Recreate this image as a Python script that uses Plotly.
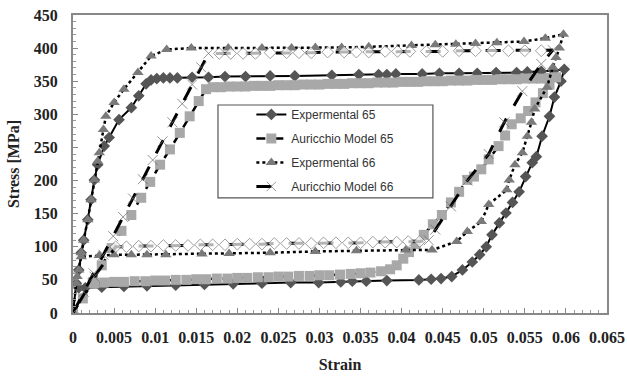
import plotly.graph_objects as go

# ---------------- data ----------------
exp65_strain = [0, 0.0004, 0.0007, 0.001, 0.0013, 0.0018, 0.0022, 0.0026, 0.003, 0.0038, 0.0044, 0.0056,
                0.0071, 0.008, 0.0089, 0.0095, 0.0102, 0.011, 0.0118, 0.0127, 0.0145, 0.0165, 0.0185, 0.021,
                0.024, 0.027, 0.0315, 0.0348, 0.0372, 0.0382, 0.0393, 0.0425, 0.0446, 0.047, 0.0492, 0.0515,
                0.054, 0.0553, 0.057, 0.0585, 0.0598,
                0.0594, 0.0586, 0.058, 0.0571, 0.0564, 0.0559, 0.0551, 0.0543, 0.0535, 0.0527, 0.0519, 0.051,
                0.0503, 0.0495, 0.0486, 0.0474, 0.0461, 0.0448, 0.0436, 0.0421, 0.0382, 0.0357, 0.034, 0.0326,
                0.0299, 0.0265, 0.023, 0.0195, 0.016, 0.0125, 0.009, 0.0062, 0.0035, 0.0015, 0.0007]
exp65_stress = [0, 45, 65, 91, 110, 141, 171, 201, 224, 252, 265, 292,
                310, 328, 346, 352, 354, 355, 355, 355, 356, 356, 357, 357,
                358, 358, 359, 360, 360, 360, 361, 361, 362, 362, 362, 363,
                363, 364, 365, 366, 368,
                350, 326, 297, 267, 236, 227, 206, 183, 167, 151, 136, 118,
                100, 88, 77, 65, 55, 52, 51, 50, 49, 48, 48, 47,
                46, 46, 45, 44, 43, 42, 41, 40, 39, 38, 38]

aur65_strain = [0, 0.0012, 0.0024, 0.0035, 0.0047, 0.0059, 0.0071, 0.0083, 0.0094, 0.0106, 0.0118, 0.013,
                0.0142, 0.0153, 0.0162,
                0.017, 0.018, 0.019, 0.020, 0.021, 0.022, 0.023, 0.024, 0.025, 0.026, 0.027, 0.028, 0.029,
                0.030, 0.031, 0.032, 0.033, 0.034, 0.035, 0.036, 0.037, 0.038, 0.039, 0.040, 0.041, 0.042,
                0.043, 0.044, 0.045, 0.046, 0.047, 0.048, 0.049, 0.050, 0.051, 0.052, 0.053, 0.054, 0.055,
                0.056, 0.057, 0.058, 0.0588,
                0.058, 0.0572, 0.0563, 0.0554, 0.0545, 0.0534, 0.0526, 0.0518, 0.0506, 0.0497, 0.0488, 0.048,
                0.047, 0.046, 0.0449, 0.0438, 0.0427, 0.0417, 0.0409, 0.0402, 0.0394, 0.0386,
                0.0375, 0.0362, 0.035, 0.0338, 0.0325, 0.0312, 0.03, 0.0288, 0.0275, 0.0262, 0.025, 0.0238,
                0.0225, 0.0212, 0.02, 0.0188, 0.0175, 0.0162, 0.015, 0.0138, 0.0125, 0.0112, 0.01, 0.0088,
                0.0075, 0.0062, 0.005, 0.0038, 0.0026]
aur65_stress = [0, 22, 46, 72, 98, 124, 148, 174, 198, 224, 247, 272,
                297, 320, 338,
                341, 341, 342, 342, 342, 343, 343, 343, 344, 344, 344, 345, 345,
                345, 346, 346, 346, 347, 347, 347, 348, 348, 348, 349, 349, 349,
                350, 350, 350, 351, 351, 351, 352, 352, 352, 353, 353, 353, 354,
                354, 354, 355, 356,
                345, 332, 318, 305, 294, 285, 268, 252, 232, 217, 206, 201,
                183, 167, 148, 134, 118, 104, 92, 82, 72, 66,
                63, 61, 60, 59, 58, 57, 57, 56, 56, 55, 55, 54,
                54, 53, 53, 52, 52, 51, 51, 50, 50, 49, 49, 48,
                48, 47, 47, 46, 45]

exp66_strain = [0, 0.0004, 0.0007, 0.001, 0.0013, 0.0018, 0.0022, 0.0026, 0.003, 0.0032, 0.0037, 0.004,
                0.005, 0.0062, 0.0079, 0.0095, 0.0114, 0.0144, 0.0189, 0.023, 0.0266, 0.0295, 0.0327, 0.036,
                0.0412, 0.0441, 0.0466, 0.049, 0.0516, 0.0549, 0.0575, 0.0597,
                0.0592, 0.0588, 0.0584, 0.0577, 0.0562, 0.0558, 0.0553, 0.0547, 0.0538, 0.0531, 0.0528,
                0.0506, 0.0497, 0.048, 0.0467, 0.0437, 0.0405, 0.0345, 0.0295, 0.024, 0.019, 0.0157,
                0.0113, 0.009, 0.0071, 0.005, 0.0032, 0.001, 0.0005]
exp66_stress = [0, 45, 65, 91, 110, 141, 171, 201, 229, 242, 277, 297,
                318, 338, 363, 388, 398, 400, 400, 400, 400, 401, 401, 402,
                404, 405, 406, 407, 408, 410, 415, 421,
                400, 386, 371, 341, 308, 288, 267, 242, 224, 201, 186,
                164, 138, 123, 108, 95, 95, 94, 93, 91, 90, 89,
                88, 88, 88, 88, 87, 85, 55]

# Auricchio model 66: elastic branches (x markers) and plateaus (open diamonds)
aur66_load_strain = [0, 0.0013, 0.0025, 0.0037, 0.0049, 0.0061, 0.0073, 0.0085, 0.0097, 0.0109, 0.0121,
                     0.0133, 0.0145, 0.0156, 0.0165]
aur66_load_stress = [0, 32, 60, 88, 116, 145, 173, 202, 231, 259, 288, 316, 345, 371, 392]
aur66_upper_strain = [0.0178, 0.0192, 0.0207, 0.0222, 0.024, 0.026, 0.0275, 0.029, 0.031, 0.033, 0.0345,
                      0.036, 0.038, 0.0395, 0.041, 0.043, 0.045, 0.047, 0.049, 0.051, 0.053, 0.055, 0.057]
aur66_upper_stress = [392, 392, 392, 392, 393, 393, 393, 393, 394, 394, 394,
                      394, 395, 395, 395, 395, 395, 396, 396, 396, 396, 396, 396]
aur66_unload_strain = [0.0584, 0.057, 0.0547, 0.0525, 0.0506, 0.048, 0.046, 0.0441, 0.0433]
aur66_unload_stress = [397, 376, 335, 288, 240, 200, 161, 126, 110]
aur66_lower_strain = [0.0422, 0.0408, 0.0394, 0.038, 0.0365, 0.035, 0.0335, 0.032, 0.0305, 0.029, 0.0275,
                      0.026, 0.0245, 0.023, 0.0215, 0.02, 0.0185, 0.017, 0.0155, 0.014, 0.0125, 0.011,
                      0.0095, 0.008, 0.0065, 0.0052]
aur66_lower_stress = [108, 108, 107, 107, 107, 106, 106, 106, 106, 105, 105,
                      105, 105, 104, 104, 104, 103, 103, 103, 102, 102, 102,
                      101, 101, 100, 100]
aur66_return_strain = [0.0026, 0]
aur66_return_stress = [55, 0]

x_tick_vals = [0, 0.005, 0.01, 0.015, 0.02, 0.025, 0.03, 0.035, 0.04, 0.045, 0.05, 0.055, 0.06, 0.065]
x_tick_text = ["0", "0.005", "0.01", "0.015", "0.02", "0.025", "0.03", "0.035", "0.04", "0.045",
               "0.05", "0.055", "0.06", "0.065"]
y_tick_vals = [0, 50, 100, 150, 200, 250, 300, 350, 400, 450]

series_names = ["Expermental 65", "Auricchio Model 65", "Expermental 66", "Auricchio Model 66"]

# ---------------- figure ----------------
fig = go.Figure()

fig.add_trace(go.Scatter(
    x=exp65_strain, y=exp65_stress, name=series_names[0], mode="lines+markers",
    line=dict(color="black", width=2),
    marker=dict(symbol="diamond", size=9, color="#555555", line=dict(width=0)),
    legendgroup="a"))

fig.add_trace(go.Scatter(
    x=aur65_strain, y=aur65_stress, name=series_names[1], mode="lines+markers",
    line=dict(color="black", width=2.5, dash="dash"),
    marker=dict(symbol="square", size=10, color="#a8a8a8", line=dict(width=0)),
    legendgroup="b"))

fig.add_trace(go.Scatter(
    x=exp66_strain, y=exp66_stress, name=series_names[2], mode="lines+markers",
    line=dict(color="black", width=2.5, dash="dot"),
    marker=dict(symbol="triangle-up", size=10, color="#7a7a7a", line=dict(width=0)),
    legendgroup="c"))

segments = [(aur66_load_strain, aur66_load_stress, "x"),
            (aur66_upper_strain, aur66_upper_stress, "d"),
            (aur66_unload_strain, aur66_unload_stress, "x"),
            (aur66_lower_strain, aur66_lower_stress, "d"),
            (aur66_return_strain, aur66_return_stress, "x")]
ax, ay, syms, fills, sizes = [], [], [], [], []
for sx, sy, kind in segments:
    ax += sx
    ay += sy
    syms += ["x-thin-open" if kind == "x" else "diamond"] * len(sx)
    fills += ["#666666" if kind == "x" else "white"] * len(sx)
    sizes += [10 if kind == "x" else 9] * len(sx)

fig.add_trace(go.Scatter(
    x=ax, y=ay, name=series_names[3], mode="lines+markers",
    line=dict(color="black", width=3, dash="longdash"),
    marker=dict(symbol=syms, size=sizes, color=fills, line=dict(color="#777777", width=1)),
    legendgroup="d"))

axis_font = dict(family="Liberation Serif", size=16, color="#222222", weight="bold")

fig.update_layout(
    width=627, height=376,
    margin=dict(l=73, r=20, t=15, b=63),
    paper_bgcolor="white", plot_bgcolor="white",
    showlegend=True,
    legend=dict(
        x=0.334, y=0.715, xanchor="left", yanchor="top",
        bgcolor="rgba(0,0,0,0)", borderwidth=0,
        font=dict(family="Liberation Sans", size=12, color="#333333"),
        tracegroupgap=5, traceorder="grouped", itemwidth=30),
    shapes=[dict(type="rect", xref="paper", yref="paper",
                 x0=0.2715, x1=0.674, y0=0.386, y1=0.698,
                 line=dict(color="#555555", width=1.2), fillcolor="rgba(0,0,0,0)", layer="below")],
)

fig.update_xaxes(
    range=[0, 0.065], tickvals=x_tick_vals, ticktext=x_tick_text, automargin=False,
    showgrid=False, zeroline=False, showline=True, linecolor="#888888", linewidth=2, mirror=True,
    ticks="inside", ticklen=5, tickcolor="#888888",
    minor=dict(dtick=0.001, ticks="inside", ticklen=3, tickcolor="#999999"),
    tickfont=axis_font, ticklabelstandoff=9,
    title=dict(text="Strain", font=axis_font, standoff=14))

fig.update_yaxes(
    range=[0, 450], tickvals=y_tick_vals, automargin=False,
    showgrid=False, zeroline=False, showline=True, linecolor="#888888", linewidth=2, mirror=True,
    ticks="inside", ticklen=5, tickcolor="#888888",
    minor=dict(dtick=10, ticks="inside", ticklen=3, tickcolor="#999999"),
    tickfont=axis_font, ticklabelstandoff=10,
    title=dict(text="Stress [MPa]", font=axis_font, standoff=10))

fig.write_html("out.html", config={"displayModeBar": False},
               post_script="document.body.style.margin='0px';")
